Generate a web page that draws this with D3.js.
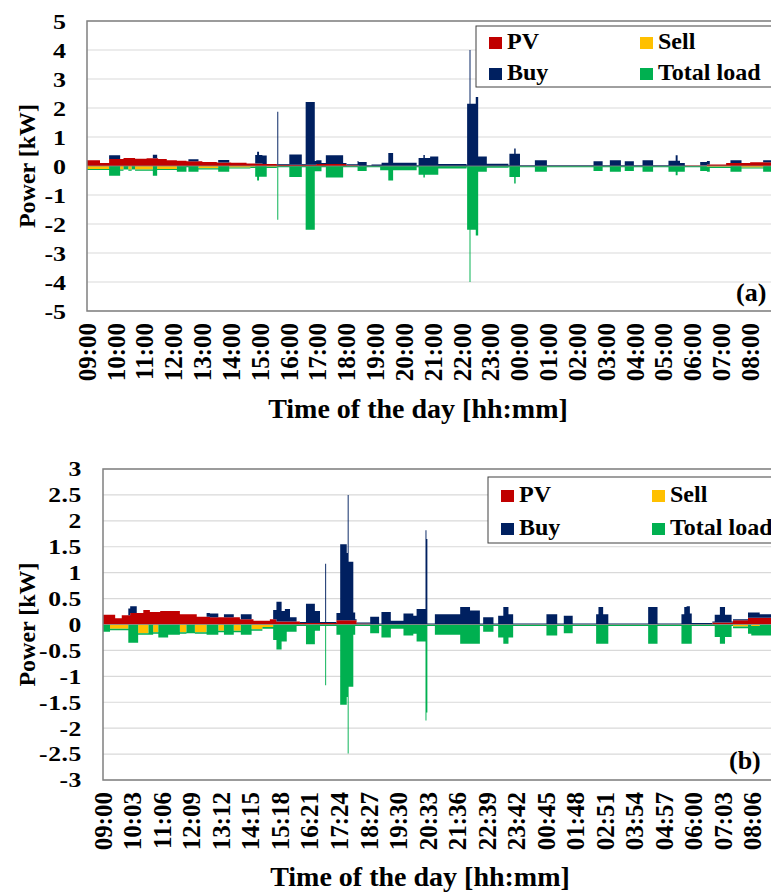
<!DOCTYPE html>
<html lang="en">
<head>
<meta charset="utf-8">
<title>Power flows</title>
<script src="https://cdn.jsdelivr.net/npm/d3@7/dist/d3.min.js"></script>
<style>
  body { margin: 0; background: #fff; }
  text { font-family: "Liberation Serif", "Times New Roman", serif; font-weight: bold; fill: #000; }
</style>
</head>
<body>
<svg id="chart" width="771" height="894"></svg>
<script>

// series names / colours (legend order)
var seriesKeys = ["PV", "Sell", "Buy", "Total load"];
var seriesColors = {"PV": "#c00000", "Sell": "#ffc000", "Buy": "#002060", "Total load": "#00b050"};

// data: [start minute after 09:00, end minute, kW]. later rows override earlier ones
// ---- panel (a)
var pvA = [[0,27,0.2],[27,46,0.1],[46,76,0.24],[76,100,0.28],[100,124,0.25],[124,148,0.27],[148,166,0.24],
  [166,187,0.2],[187,207,0.18],[207,240,0.16],[240,270,0.14],[270,300,0.12],[300,332,0.11],[332,365,0.09],
  [365,395,0.07],[395,477,0.04],[477,540,0.07],[540,565,0.03],
  [1245,1290,0.02],[1290,1330,0.05],[1330,1380,0.1],[1380,1440,0.13]];
var buyA = [[395,1245,0.03],[46,69,0.13],[137,146,0.12],[211,232,0.07],[273,296,0.09],[350,374,0.29],[354,358,0.4],
  [396,398,1.83],[421,447,0.36],[455,474,2.17],[474,488,0.13],[497,533,0.3],[563,582,0.14],[592,613,0.05],
  [613,627,0.11],[627,637,0.45],[637,686,0.11],[690,714,0.28],[700,703,0.38],[714,731,0.33],[731,790,0.07],
  [791,809,2.15],[809,814,2.38],[796,798,4.0],[814,832,0.33],[832,877,0.08],[879,901,0.42],[889,892,0.6],
  [932,957,0.2],[1054,1073,0.16],[1088,1111,0.2],[1119,1138,0.16],[1156,1178,0.2],[1210,1234,0.18],
  [1225,1229,0.37],[1234,1244,0.1],[1276,1296,0.12],[1339,1362,0.1],[1407,1440,0.07]];
var sellA = [[0,46,0.1],[69,76,0.12],[86,93,0.12],[100,137,0.12],[146,187,0.1],[232,273,0.08],[296,340,0.05],
  [340,350,0.03],[374,395,0.03],[1290,1339,0.03],[1362,1407,0.05]];
var loadA = [[0,1440,0.04],[46,69,0.34],[76,86,0.12],[93,100,0.12],[137,146,0.34],[187,207,0.2],[211,232,0.2],
  [273,296,0.2],[350,374,0.37],[354,358,0.5],[396,398,1.85],[421,447,0.38],[455,474,2.2],[474,488,0.18],
  [497,533,0.4],[563,582,0.17],[610,627,0.15],[627,637,0.5],[637,686,0.15],[690,731,0.3],[700,703,0.4],
  [731,790,0.09],[791,809,2.2],[809,814,2.4],[796,798,4.0],[814,832,0.2],[832,877,0.06],[879,901,0.38],
  [889,892,0.6],[932,957,0.2],[1054,1073,0.17],[1088,1111,0.2],[1119,1138,0.17],[1156,1178,0.2],
  [1210,1244,0.2],[1225,1229,0.32],[1276,1296,0.17],[1339,1362,0.2],[1407,1440,0.2]];

// ---- panel (b)
var pvB = [[0,26,0.19],[26,40,0.12],[40,58,0.18],[58,86,0.22],[86,100,0.28],[100,122,0.24],[122,164,0.26],
  [164,200,0.2],[200,228,0.15],[228,292,0.14],[292,321,0.1],[321,356,0.07],[356,370,0.1],[370,420,0.06],
  [420,498,0.03],[498,541,0.08],[541,570,0.02],
  [1245,1300,0.01],[1300,1344,0.04],[1344,1376,0.08],[1376,1440,0.13]];
var buyB = [[420,1440,0.02],[54,72,0.13],[221,246,0.07],[258,279,0.06],[294,317,0.1],[363,370,0.18],
  [370,381,0.38],[381,388,0.2],[388,399,0.24],[399,413,0.08],[433,452,0.37],[452,463,0.23],[474,476,1.14],
  [498,506,0.14],[506,520,1.47],[520,523,1.3],[524,534,1.13],[522,524,2.42],[534,538,0.15],[570,589,0.15],
  [594,614,0.24],[614,641,0.07],[641,662,0.21],[662,669,0.17],[669,688,0.3],[688,690,1.82],[690,692,1.65],
  [708,762,0.2],[762,783,0.34],[783,804,0.27],[811,833,0.14],[843,854,0.17],[854,865,0.34],[865,875,0.2],
  [946,969,0.2],[983,1002,0.17],[1052,1078,0.2],[1057,1067,0.34],[1163,1183,0.34],[1234,1256,0.2],
  [1240,1252,0.34],[1305,1341,0.15],[1316,1327,0.3],[1376,1401,0.1],[1401,1440,0.07]];
var sellB = [[15,54,0.08],[75,97,0.17],[107,118,0.15],[164,178,0.15],[196,221,0.15],[246,258,0.12],
  [279,294,0.12],[317,340,0.09],[340,363,0.05],[1344,1376,0.04],[1383,1401,0.03]];
var loadB = [[0,1440,0.03],[0,15,0.14],[54,75,0.35],[97,107,0.2],[118,139,0.25],[139,164,0.2],[178,196,0.17],
  [221,246,0.2],[258,279,0.2],[294,317,0.2],[363,370,0.3],[370,381,0.48],[381,392,0.33],[392,413,0.14],
  [433,452,0.38],[452,463,0.12],[474,476,1.17],[498,506,0.2],[506,520,1.55],[520,523,1.4],[524,534,1.2],
  [522,524,2.49],[534,538,0.2],[570,589,0.17],[594,614,0.25],[614,641,0.08],[641,662,0.21],[662,669,0.18],
  [669,688,0.33],[688,690,1.85],[690,692,1.7],[708,762,0.2],[762,804,0.37],[811,833,0.14],[843,854,0.25],
  [854,865,0.37],[865,875,0.25],[946,969,0.21],[983,1002,0.17],[1052,1078,0.37],[1163,1183,0.37],
  [1234,1256,0.37],[1305,1341,0.24],[1316,1327,0.37],[1376,1401,0.18],[1401,1440,0.21]];

// axis labels
var timeLabelsA = ["09:00","10:00","11:00","12:00","13:00","14:00","15:00","16:00","17:00","18:00","19:00","20:00",
  "21:00","22:00","23:00","00:00","01:00","02:00","03:00","04:00","05:00","06:00","07:00","08:00"];
var timeLabelsB = ["09:00","10:03","11:06","12:09","13:12","14:15","15:18","16:21","17:24","18:27","19:30","20:33",
  "21:36","22:39","23:42","00:45","01:48","02:51","03:54","04:57","06:00","07:03","08:06"];
var yTicksA = [-5,-4,-3,-2,-1,0,1,2,3,4,5];
var yTicksB = [-3,-2.5,-2,-1.5,-1,-0.5,0,0.5,1,1.5,2,2.5,3];

var svg = d3.select("#chart");

//value of a segment list at minute t (last match wins)
function valueAt(segs, t) {
    var v = 0;
    segs.forEach(function(s) { if (t >= s[0] && t < s[1]) v = s[2]; });
    return v;
}

//minutes after 09:00 for a hh:mm label
function labelMinute(lab) {
    var p = lab.split(":");
    return ((+p[0]) * 60 + (+p[1]) - 540 + 1440) % 1440;
}

function drawPanel(cfg) {
    var x = d3.scaleLinear().domain([0, 1440]).range([cfg.left, cfg.right]);
    var y = d3.scaleLinear().domain([cfg.yTicks[0], cfg.yTicks[cfg.yTicks.length - 1]]).range([cfg.bottom, cfg.top]);

    //breakpoints of all series
    var pts = [0, 1440];
    [cfg.pv, cfg.buy, cfg.sell, cfg.load].forEach(function(segs) {
        segs.forEach(function(s) { pts.push(s[0], s[1]); });
    });
    pts = Array.from(new Set(pts)).sort(function(a, b) { return a - b; });

    var rows = pts.map(function(t) {
        return {t: t, "PV": valueAt(cfg.pv, t), "Buy": valueAt(cfg.buy, t),
                "Sell": -valueAt(cfg.sell, t), "Total load": -valueAt(cfg.load, t)};
    });

    var stacked = d3.stack()
        .keys(["PV", "Buy", "Sell", "Total load"])
        .offset(d3.stackOffsetDiverging)(rows);

    var g = svg.append("g");

    //gridlines
    g.selectAll(".grid").data(cfg.yTicks).enter().append("line")
        .attr("x1", cfg.left).attr("x2", cfg.right)
        .attr("y1", function(d) { return y(d); }).attr("y2", function(d) { return y(d); })
        .attr("stroke", "#d9d9d9").attr("stroke-width", 1.2);

    var area = d3.area()
        .x(function(d) { return x(d.data.t); })
        .y0(function(d) { return y(d[0]); })
        .y1(function(d) { return y(d[1]); })
        .curve(d3.curveStepAfter);

    g.selectAll(".layer").data(stacked).enter().append("path")
        .attr("d", area)
        .attr("fill", function(d) { return seriesColors[d.key]; });

    //zero line
    g.append("line")
        .attr("x1", cfg.left).attr("x2", cfg.right)
        .attr("y1", y(0)).attr("y2", y(0))
        .attr("stroke", "#8c8c8c").attr("stroke-width", 0.8);

    //frame
    g.append("rect")
        .attr("x", cfg.left).attr("y", cfg.top)
        .attr("width", cfg.right - cfg.left).attr("height", cfg.bottom - cfg.top)
        .attr("fill", "none").attr("stroke", "#808080").attr("stroke-width", 1.5);

    //y tick labels (a bit wider than the font)
    g.selectAll(".ytick").data(cfg.yTicks).enter().append("text")
        .attr("transform", function(d) {
            return "translate(" + cfg.yLabelX + "," + y(d) + ") scale(" + cfg.tickStretch + ",1)";
        })
        .attr("dy", "0.35em").attr("text-anchor", "end")
        .style("font-size", cfg.tickSize + "px")
        .style("letter-spacing", cfg.tickSpacing + "px")
        .text(function(d) { return String(d); });

    //x tick labels (rotated)
    g.selectAll(".xtick").data(cfg.timeLabels).enter().append("text")
        .attr("transform", function(d) {
            return "translate(" + x(labelMinute(d)) + "," + (cfg.bottom + 12) + ") rotate(-90)";
        })
        .attr("dy", "0.35em").attr("text-anchor", "end")
        .style("font-size", cfg.xTickSize + "px")
        .text(function(d) { return d; });

    //axis titles
    g.append("text")
        .attr("transform", "translate(27," + y(0) + ") rotate(-90)")
        .attr("dy", "0.35em").attr("text-anchor", "middle")
        .style("font-size", "24px")
        .text("Power [kW]");

    g.append("text")
        .attr("x", cfg.titleX).attr("y", cfg.titleY)
        .attr("text-anchor", "middle")
        .style("font-size", "28px")
        .text("Time of the day [hh:mm]");

    //panel tag
    g.append("text")
        .attr("x", cfg.tagX).attr("y", cfg.tagY)
        .style("font-size", "26px")
        .text(cfg.tag);

    //legend
    var lg = g.append("g").attr("transform", "translate(" + cfg.legX + "," + cfg.legY + ")");
    lg.append("rect")
        .attr("width", 320).attr("height", cfg.legH)
        .attr("fill", "#fff").attr("stroke", "#404040").attr("stroke-width", 1);
    var legPos = {"PV": [0, 0], "Sell": [1, 0], "Buy": [0, 1], "Total load": [1, 1]};
    seriesKeys.forEach(function(k) {
        var col = legPos[k][0], row = legPos[k][1];
        var lx = 13 + col * 151, ly = cfg.legRow0 + row * cfg.legRowH;
        lg.append("rect")
            .attr("x", lx).attr("y", ly - 12)
            .attr("width", 13).attr("height", 12)
            .attr("fill", seriesColors[k]);
        lg.append("text")
            .attr("x", lx + 18).attr("y", ly)
            .style("font-size", "24px")
            .text(k);
    });
}

drawPanel({
    left: 87, right: 779, top: 21, bottom: 311,
    yTicks: yTicksA, timeLabels: timeLabelsA,
    pv: pvA, buy: buyA, sell: sellA, load: loadA,
    yLabelX: 66, tickSize: 22, tickStretch: 1.18, tickSpacing: 0, xTickSize: 25,
    titleX: 418, titleY: 418,
    tag: "(a)", tagX: 736, tagY: 301,
    legX: 476, legY: 26, legH: 61, legRow0: 23, legRowH: 31
});

drawPanel({
    left: 103, right: 778, top: 469, bottom: 780,
    yTicks: yTicksB, timeLabels: timeLabelsB,
    pv: pvB, buy: buyB, sell: sellB, load: loadB,
    yLabelX: 82, tickSize: 21, tickStretch: 1.22, tickSpacing: 0.5, xTickSize: 25,
    titleX: 420, titleY: 886,
    tag: "(b)", tagX: 729, tagY: 769,
    legX: 488, legY: 477, legH: 66, legRow0: 25, legRowH: 33
});

</script>
</body>
</html>
